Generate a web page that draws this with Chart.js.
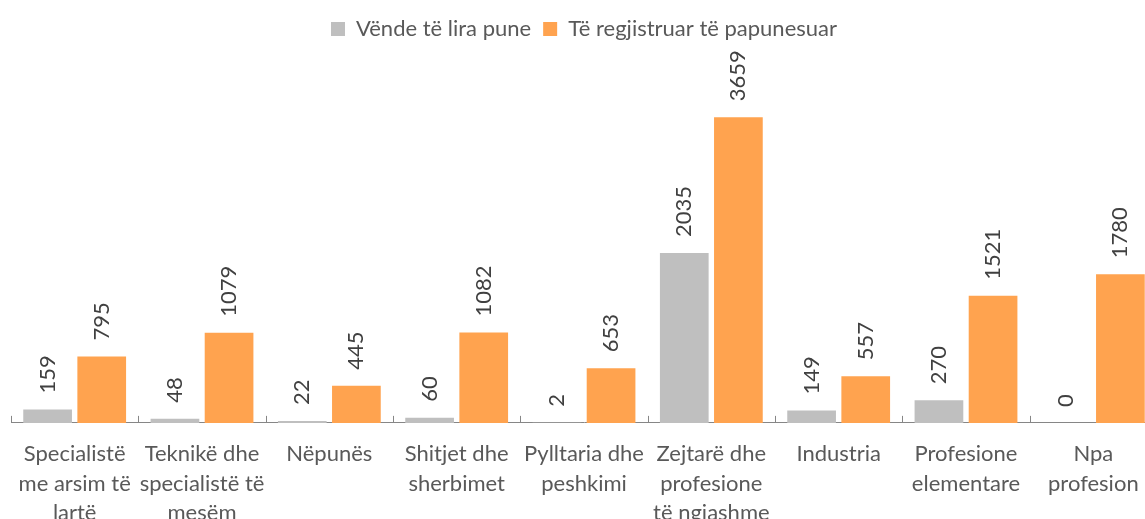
<!DOCTYPE html>
<html>
<head>
<meta charset="utf-8">
<script src="https://cdn.jsdelivr.net/npm/chart.js@4.4.1/dist/chart.umd.min.js"></script>
<style>
  html, body { margin: 0; padding: 0; overflow: hidden; background: #fff; }
  #wrap { position: relative; width: 1168px; height: 545px; }
</style>
</head>
<body>
<div id="wrap"><canvas id="chart"></canvas></div>
<script>
// occupation groups (x axis), multi-line like the original
const categories = [
  ['Specialistë', 'me arsim të', 'lartë'],
  ['Teknikë dhe', 'specialistë të', 'mesëm'],
  'Nëpunës',
  ['Shitjet dhe', 'sherbimet'],
  ['Pylltaria dhe', 'peshkimi'],
  ['Zejtarë dhe', 'profesione', 'të ngjashme'],
  'Industria',
  ['Profesione', 'elementare'],
  ['Npa', 'profesion'],
];
const seriesNames = ['Vënde të lira pune', 'Të regjistruar të papunesuar'];
const vacancies = [159, 48, 22, 60, 2, 2035, 149, 270, 0];
const unemployed = [795, 1079, 445, 1082, 653, 3659, 557, 1521, 1780];

const GREY = '#BFBFBF', ORANGE = '#FFA34F', TEXT = '#595959', FONT = "Lato, 'Open Sans', sans-serif";

// vertical value labels sitting above each bar
const valueLabels = {
  id: 'valueLabels',
  afterDatasetsDraw(chart) {
    const { ctx } = chart;
    ctx.save();
    ctx.font = `22px ${FONT}`;
    ctx.fillStyle = '#404040';
    ctx.textAlign = 'left';
    ctx.textBaseline = 'middle';
    chart.data.datasets.forEach((ds, di) => {
      chart.getDatasetMeta(di).data.forEach((bar, i) => {
        ctx.save();
        ctx.translate(bar.x, bar.y - 16);
        ctx.rotate(-Math.PI / 2);
        ctx.fillText(String(ds.data[i]), 0, 0);
        ctx.restore();
      });
    });
    ctx.restore();
  },
};

// short tick marks between categories, pointing up into the plot
const innerTicks = {
  id: 'innerTicks',
  afterDraw(chart) {
    const x = chart.scales.x, { ctx } = chart;
    const step = x.width / categories.length;
    ctx.save();
    ctx.strokeStyle = '#868686';
    ctx.lineWidth = 1;
    ctx.beginPath();
    for (let i = 0; i <= categories.length; i++) {
      const px = Math.round(x.left + i * step) + 0.5;
      ctx.moveTo(px, x.top);
      ctx.lineTo(px, x.top - 7);
    }
    ctx.stroke();
    ctx.restore();
  },
};

new Chart(document.getElementById('chart'), {
  type: 'bar',
  data: {
    labels: categories,
    datasets: [
      { label: seriesNames[0], data: vacancies, backgroundColor: GREY },
      { label: seriesNames[1], data: unemployed, backgroundColor: ORANGE },
    ],
  },
  options: {
    responsive: true, maintainAspectRatio: false, animation: false,
    categoryPercentage: 0.85, barPercentage: 0.9,
    layout: { padding: { left: 11, right: 11, top: 6, bottom: 9 } },
    plugins: {
      legend: {
        position: 'top',
        labels: { color: TEXT, font: { family: FONT, size: 22 }, boxWidth: 14, boxHeight: 14, padding: 12 },
      },
      tooltip: { enabled: false },
    },
    scales: {
      x: {
        grid: { display: false },
        border: { display: true, color: '#868686', width: 1 },
        ticks: { color: TEXT, font: { family: FONT, size: 22, lineHeight: 1.32 }, padding: 9, maxRotation: 0, autoSkip: false },
      },
      y: { display: false, min: 0, max: 4465 },
    },
  },
  plugins: [valueLabels, innerTicks],
});
</script>
</body>
</html>
